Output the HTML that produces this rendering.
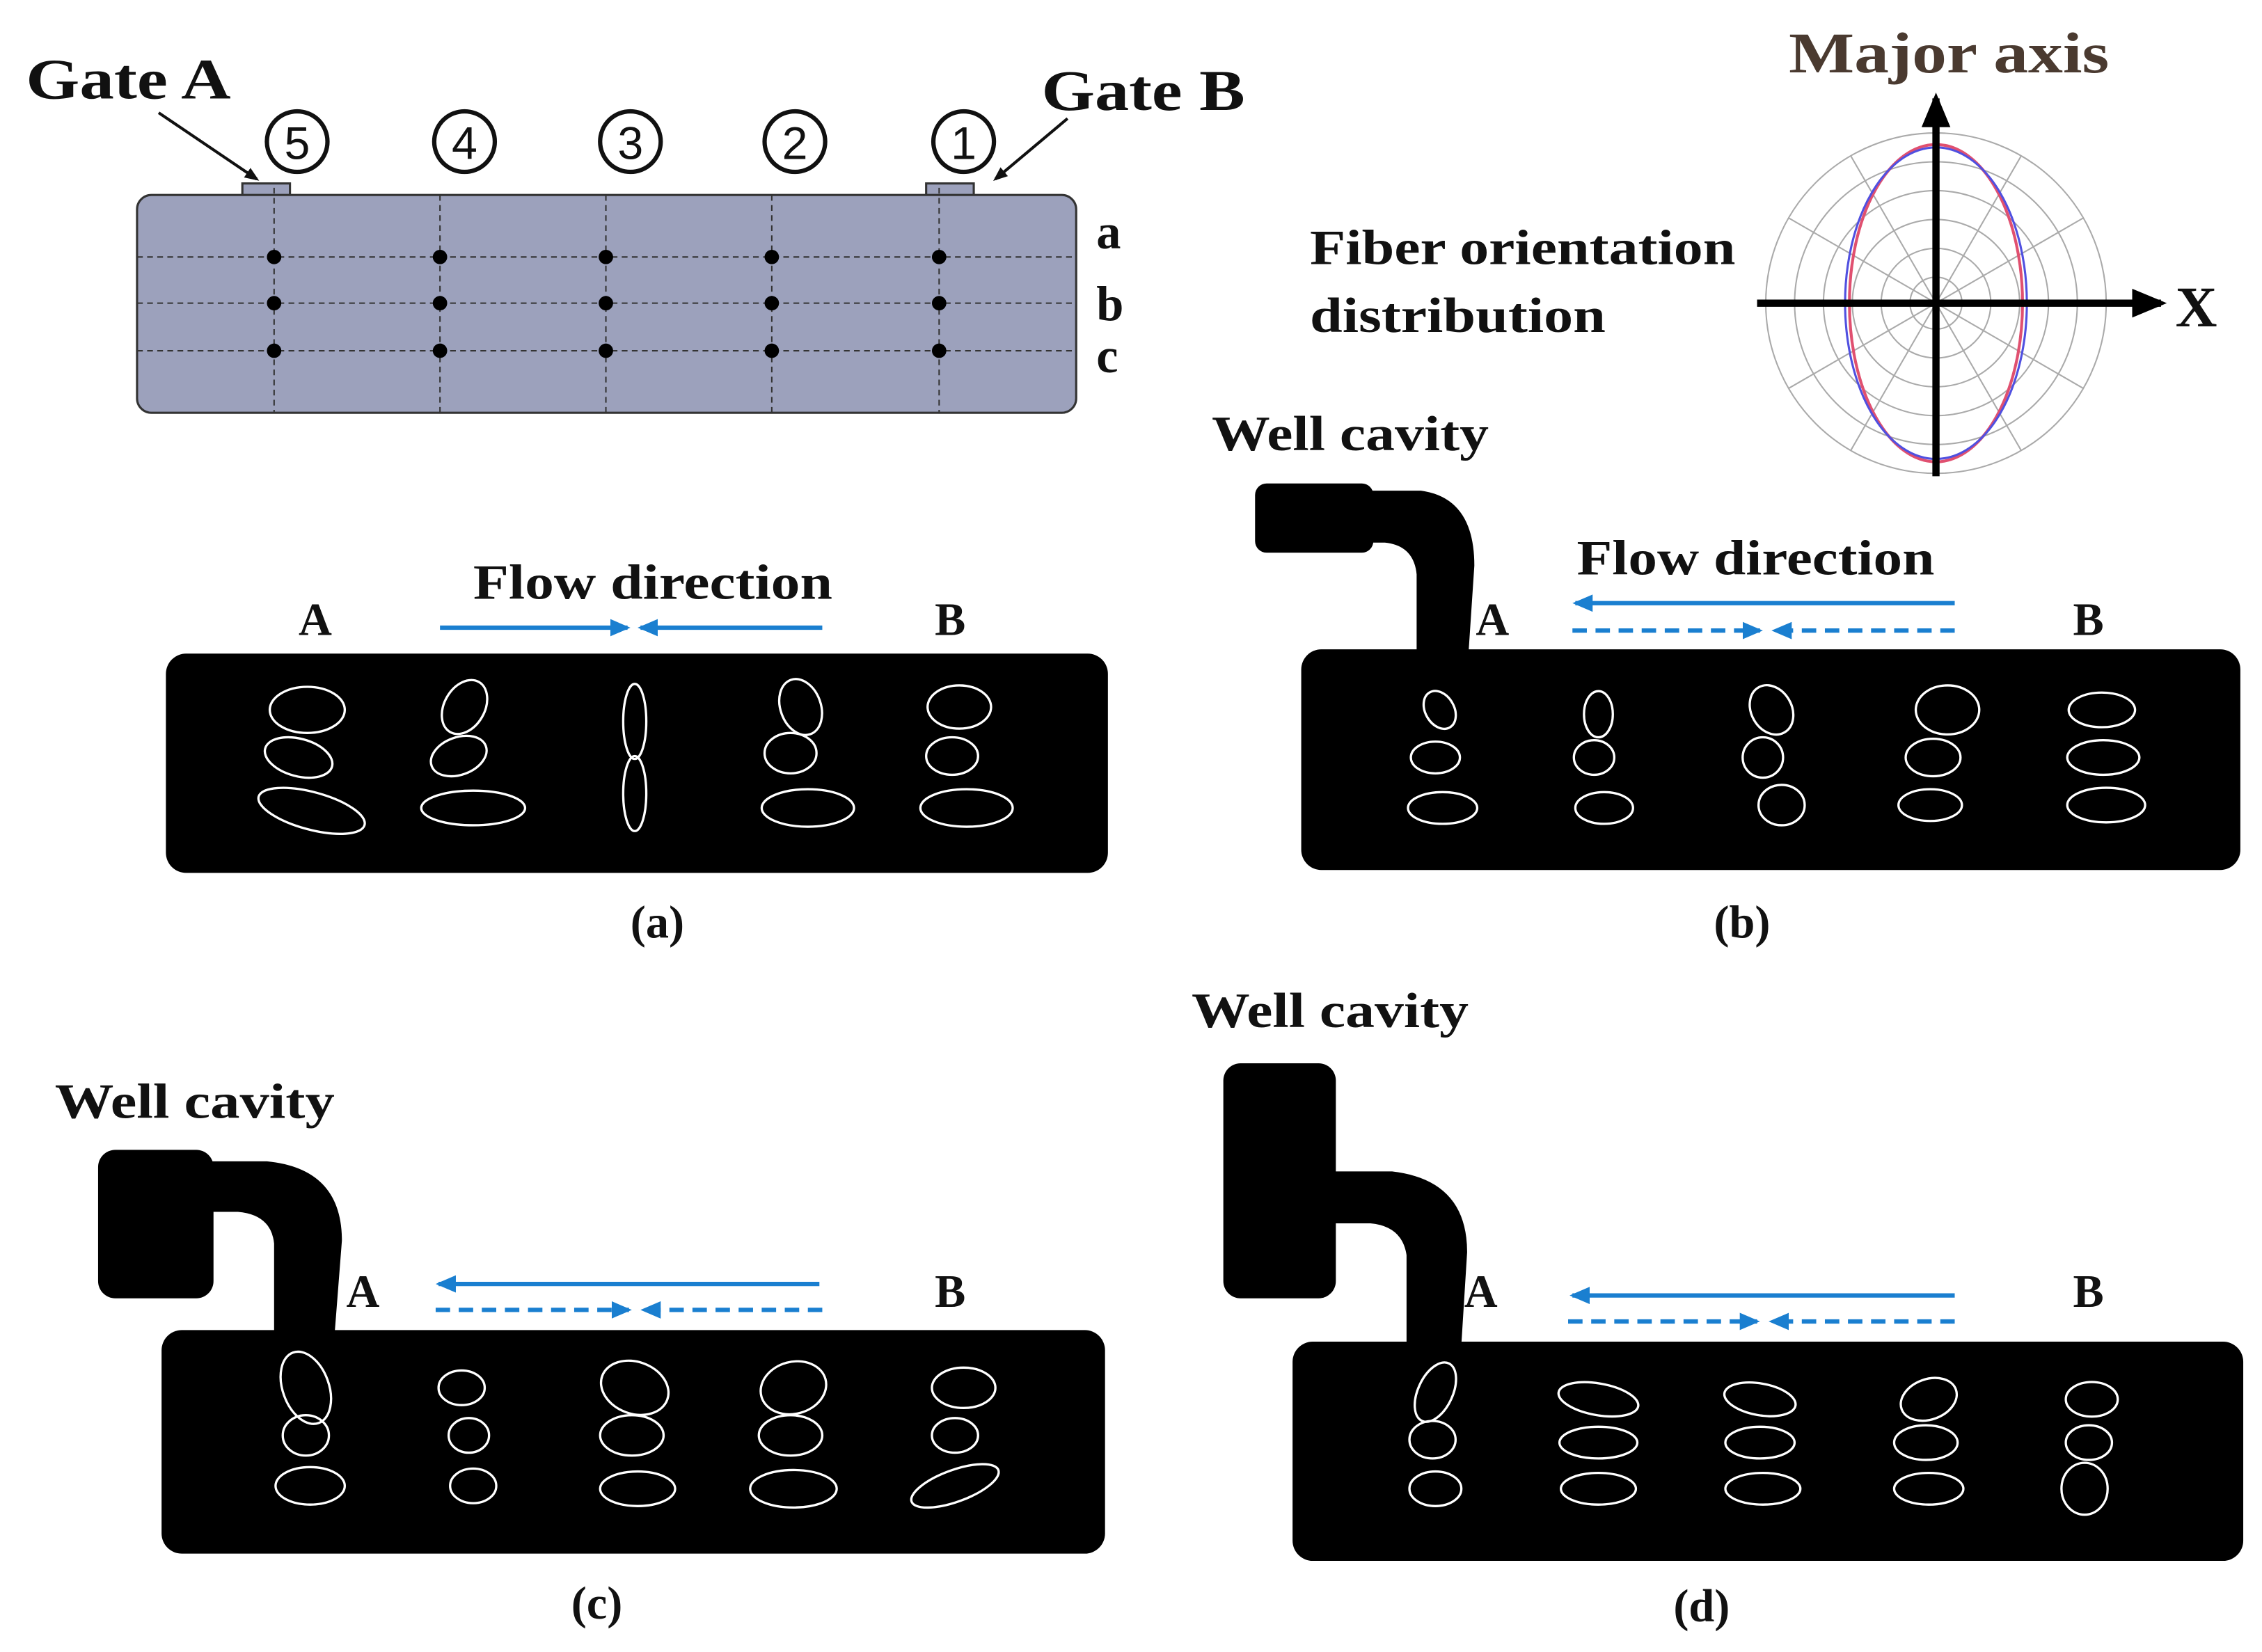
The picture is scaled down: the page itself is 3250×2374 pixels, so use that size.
<!DOCTYPE html>
<html><head><meta charset="utf-8"><style>
html,body{margin:0;padding:0;background:#fff;}
svg{display:block}
text{font-family:"Liberation Serif",serif;font-weight:bold;fill:#111}
</style></head><body>
<svg width="3250" height="2374" viewBox="0 0 1568 1145" xmlns="http://www.w3.org/2000/svg">
<defs>
<marker id="ah" markerWidth="10" markerHeight="10" refX="8" refY="5" orient="auto" markerUnits="userSpaceOnUse"><path d="M0,1 L10,5 L0,9 Z" fill="#111"/></marker>
<marker id="bh" markerWidth="14" markerHeight="12" refX="12" refY="6" orient="auto" markerUnits="userSpaceOnUse"><path d="M0,0 L14,6 L0,12 Z" fill="#1a7fd0"/></marker>
<marker id="kh" markerWidth="24" markerHeight="20" refX="20" refY="10" orient="auto" markerUnits="userSpaceOnUse"><path d="M0,0 L24,10 L0,20 Z" fill="#000"/></marker>
</defs>
<rect width="1568" height="1145" fill="#fff"/>

<!-- Top schematic -->
<text x="18" y="68" font-size="40" textLength="142" lengthAdjust="spacingAndGlyphs">Gate A</text>
<text x="722" y="76" font-size="40" textLength="141" lengthAdjust="spacingAndGlyphs">Gate B</text>
<line x1="110" y1="78" x2="178" y2="124" stroke="#111" stroke-width="2" marker-end="url(#ah)"/>
<line x1="740" y1="82" x2="690" y2="124" stroke="#111" stroke-width="2" marker-end="url(#ah)"/>
<rect x="168" y="127" width="33" height="12" fill="#9ca1bc" stroke="#333" stroke-width="1.5"/>
<rect x="642" y="127" width="33" height="12" fill="#9ca1bc" stroke="#333" stroke-width="1.5"/>
<rect x="95" y="135" width="651" height="151" rx="10" fill="#9ca1bc" stroke="#333" stroke-width="1.5"/>
<g stroke="#333" stroke-width="1" stroke-dasharray="4,3">
<line x1="95" y1="178" x2="746" y2="178"/><line x1="95" y1="210" x2="746" y2="210"/><line x1="95" y1="243" x2="746" y2="243"/>
<line x1="190" y1="130" x2="190" y2="286"/><line x1="305" y1="135" x2="305" y2="286"/><line x1="420" y1="135" x2="420" y2="286"/><line x1="535" y1="135" x2="535" y2="286"/><line x1="651" y1="130" x2="651" y2="286"/>
</g>
<g fill="#000">
<circle cx="190" cy="178" r="5"/><circle cx="190" cy="210" r="5"/><circle cx="190" cy="243" r="5"/>
<circle cx="305" cy="178" r="5"/><circle cx="305" cy="210" r="5"/><circle cx="305" cy="243" r="5"/>
<circle cx="420" cy="178" r="5"/><circle cx="420" cy="210" r="5"/><circle cx="420" cy="243" r="5"/>
<circle cx="535" cy="178" r="5"/><circle cx="535" cy="210" r="5"/><circle cx="535" cy="243" r="5"/>
<circle cx="651" cy="178" r="5"/><circle cx="651" cy="210" r="5"/><circle cx="651" cy="243" r="5"/>
</g>
<g fill="none" stroke="#111" stroke-width="3">
<circle cx="206" cy="98" r="21"/><circle cx="322" cy="98" r="21"/><circle cx="437" cy="98" r="21"/><circle cx="551" cy="98" r="21"/><circle cx="668" cy="98" r="21"/>
</g>
<g font-size="32" text-anchor="middle">
<text x="206" y="110" style="font-family:'Liberation Sans',sans-serif;font-weight:normal">5</text>
<text x="322" y="110" style="font-family:'Liberation Sans',sans-serif;font-weight:normal">4</text>
<text x="437" y="110" style="font-family:'Liberation Sans',sans-serif;font-weight:normal">3</text>
<text x="551" y="110" style="font-family:'Liberation Sans',sans-serif;font-weight:normal">2</text>
<text x="668" y="110" style="font-family:'Liberation Sans',sans-serif;font-weight:normal">1</text>
</g>
<text x="760" y="172" font-size="34">a</text>
<text x="760" y="222" font-size="34">b</text>
<text x="760" y="258" font-size="34">c</text>

<!-- Polar plot -->
<text x="1240" y="50" font-size="40" textLength="222" lengthAdjust="spacingAndGlyphs" style="fill:#4a3a30">Major axis</text>
<text x="908" y="183" font-size="34" textLength="295" lengthAdjust="spacingAndGlyphs">Fiber orientation</text>
<text x="908" y="230" font-size="34" textLength="205" lengthAdjust="spacingAndGlyphs">distribution</text>
<g fill="none" stroke="#aaa" stroke-width="1">
<circle cx="1342" cy="210" r="118"/><circle cx="1342" cy="210" r="98"/><circle cx="1342" cy="210" r="78"/><circle cx="1342" cy="210" r="58"/><circle cx="1342" cy="210" r="38"/><circle cx="1342" cy="210" r="18"/>
<line x1="1240" y1="151" x2="1444" y2="269"/><line x1="1240" y1="269" x2="1444" y2="151"/>
<line x1="1283" y1="108" x2="1401" y2="312"/><line x1="1283" y1="312" x2="1401" y2="108"/>
</g>
<ellipse cx="1342" cy="210" rx="60" ry="110" fill="none" stroke="#e05070" stroke-width="2"/>
<ellipse cx="1342" cy="210" rx="63" ry="108" fill="none" stroke="#5050e0" stroke-width="1.5"/>
<line x1="1342" y1="330" x2="1342" y2="68" stroke="#000" stroke-width="5" marker-end="url(#kh)"/>
<line x1="1218" y1="210" x2="1498" y2="210" stroke="#000" stroke-width="5" marker-end="url(#kh)"/>
<text x="1508" y="226" font-size="40">X</text>

<!-- Panel (a) -->
<rect x="115" y="453" width="653" height="152" rx="14" fill="#000"/>
<text x="328" y="415" font-size="34" textLength="249" lengthAdjust="spacingAndGlyphs">Flow direction</text>
<text x="207" y="440" font-size="32">A</text>
<text x="648" y="440" font-size="32">B</text>
<line x1="305" y1="435" x2="435" y2="435" stroke="#1a7fd0" stroke-width="3" marker-end="url(#bh)"/>
<line x1="570" y1="435" x2="444" y2="435" stroke="#1a7fd0" stroke-width="3" marker-end="url(#bh)"/>
<g fill="none" stroke="#fff" stroke-width="1.6">
<ellipse cx="213" cy="492" rx="26" ry="16"/><ellipse cx="207" cy="525" rx="24" ry="13" transform="rotate(15 207 525)"/><ellipse cx="216" cy="562" rx="38" ry="13" transform="rotate(15 216 562)"/>
<ellipse cx="322" cy="490" rx="14" ry="20" transform="rotate(30 322 490)"/><ellipse cx="318" cy="524" rx="20" ry="13" transform="rotate(-20 318 524)"/><ellipse cx="328" cy="560" rx="36" ry="12"/>
<ellipse cx="440" cy="500" rx="8" ry="26"/><ellipse cx="440" cy="550" rx="8" ry="26"/>
<ellipse cx="555" cy="490" rx="14" ry="20" transform="rotate(-20 555 490)"/><ellipse cx="548" cy="522" rx="18" ry="14"/><ellipse cx="560" cy="560" rx="32" ry="13"/>
<ellipse cx="665" cy="490" rx="22" ry="15"/><ellipse cx="660" cy="524" rx="18" ry="13"/><ellipse cx="670" cy="560" rx="32" ry="13"/>
</g>
<text x="437" y="650" font-size="32">(a)</text>

<!-- Panel (b) -->
<text x="840" y="312" font-size="34" textLength="192" lengthAdjust="spacingAndGlyphs">Well cavity</text>
<rect x="870" y="335" width="82" height="48" rx="8" fill="#000"/>
<path d="M945,340 L985,340 Q1022,345 1022,392 L1018,452 L982,452 L982,398 Q980,378 960,376 L945,376 Z" fill="#000"/>
<rect x="902" y="450" width="651" height="153" rx="14" fill="#000"/>
<text x="1093" y="398" font-size="34" textLength="248" lengthAdjust="spacingAndGlyphs">Flow direction</text>
<text x="1023" y="440" font-size="32">A</text>
<text x="1437" y="440" font-size="32">B</text>
<line x1="1355" y1="418" x2="1092" y2="418" stroke="#1a7fd0" stroke-width="3" marker-end="url(#bh)"/>
<line x1="1090" y1="437" x2="1220" y2="437" stroke="#1a7fd0" stroke-width="3" stroke-dasharray="10,6" marker-end="url(#bh)"/>
<line x1="1355" y1="437" x2="1230" y2="437" stroke="#1a7fd0" stroke-width="3" stroke-dasharray="10,6" marker-end="url(#bh)"/>
<g fill="none" stroke="#fff" stroke-width="1.6">
<ellipse cx="998" cy="492" rx="10" ry="14" transform="rotate(-30 998 492)"/><ellipse cx="995" cy="525" rx="17" ry="11"/><ellipse cx="1000" cy="560" rx="24" ry="11"/>
<ellipse cx="1108" cy="495" rx="10" ry="16"/><ellipse cx="1105" cy="525" rx="14" ry="12"/><ellipse cx="1112" cy="560" rx="20" ry="11"/>
<ellipse cx="1228" cy="492" rx="14" ry="18" transform="rotate(-30 1228 492)"/><ellipse cx="1222" cy="525" rx="14" ry="14"/><ellipse cx="1235" cy="558" rx="16" ry="14"/>
<ellipse cx="1350" cy="492" rx="22" ry="17"/><ellipse cx="1340" cy="525" rx="19" ry="13"/><ellipse cx="1338" cy="558" rx="22" ry="11"/>
<ellipse cx="1457" cy="492" rx="23" ry="12"/><ellipse cx="1458" cy="525" rx="25" ry="12"/><ellipse cx="1460" cy="558" rx="27" ry="12"/>
</g>
<text x="1188" y="650" font-size="32">(b)</text>

<!-- Panel (c) -->
<text x="38" y="775" font-size="34" textLength="194" lengthAdjust="spacingAndGlyphs">Well cavity</text>
<rect x="68" y="797" width="80" height="103" rx="12" fill="#000"/>
<path d="M140,805 L185,805 Q237,810 237,860 L232,924 L190,924 L190,862 Q188,842 165,840 L140,840 Z" fill="#000"/>
<rect x="112" y="922" width="654" height="155" rx="14" fill="#000"/>
<text x="240" y="906" font-size="32">A</text>
<text x="648" y="906" font-size="32">B</text>
<line x1="568" y1="890" x2="304" y2="890" stroke="#1a7fd0" stroke-width="3" marker-end="url(#bh)"/>
<line x1="302" y1="908" x2="436" y2="908" stroke="#1a7fd0" stroke-width="3" stroke-dasharray="10,6" marker-end="url(#bh)"/>
<line x1="570" y1="908" x2="446" y2="908" stroke="#1a7fd0" stroke-width="3" stroke-dasharray="10,6" marker-end="url(#bh)"/>
<g fill="none" stroke="#fff" stroke-width="1.6">
<ellipse cx="212" cy="962" rx="16" ry="26" transform="rotate(-20 212 962)"/><ellipse cx="212" cy="995" rx="16" ry="14"/><ellipse cx="215" cy="1030" rx="24" ry="13"/>
<ellipse cx="320" cy="962" rx="16" ry="12"/><ellipse cx="325" cy="995" rx="14" ry="12"/><ellipse cx="328" cy="1030" rx="16" ry="12"/>
<ellipse cx="440" cy="962" rx="24" ry="18" transform="rotate(20 440 962)"/><ellipse cx="438" cy="995" rx="22" ry="14"/><ellipse cx="442" cy="1032" rx="26" ry="12"/>
<ellipse cx="550" cy="962" rx="23" ry="18" transform="rotate(-15 550 962)"/><ellipse cx="548" cy="995" rx="22" ry="14"/><ellipse cx="550" cy="1032" rx="30" ry="13"/>
<ellipse cx="668" cy="962" rx="22" ry="14"/><ellipse cx="662" cy="995" rx="16" ry="12"/><ellipse cx="662" cy="1030" rx="32" ry="11" transform="rotate(-20 662 1030)"/>
</g>
<text x="396" y="1122" font-size="32">(c)</text>

<!-- Panel (d) -->
<text x="826" y="712" font-size="34" textLength="192" lengthAdjust="spacingAndGlyphs">Well cavity</text>
<rect x="848" y="737" width="78" height="163" rx="12" fill="#000"/>
<path d="M918,812 L965,812 Q1017,818 1017,868 L1013,932 L975,932 L975,870 Q972,850 950,848 L918,848 Z" fill="#000"/>
<rect x="896" y="930" width="659" height="152" rx="14" fill="#000"/>
<text x="1015" y="906" font-size="32">A</text>
<text x="1437" y="906" font-size="32">B</text>
<line x1="1355" y1="898" x2="1090" y2="898" stroke="#1a7fd0" stroke-width="3" marker-end="url(#bh)"/>
<line x1="1087" y1="916" x2="1218" y2="916" stroke="#1a7fd0" stroke-width="3" stroke-dasharray="10,6" marker-end="url(#bh)"/>
<line x1="1355" y1="916" x2="1228" y2="916" stroke="#1a7fd0" stroke-width="3" stroke-dasharray="10,6" marker-end="url(#bh)"/>
<g fill="none" stroke="#fff" stroke-width="1.6">
<ellipse cx="995" cy="965" rx="12" ry="22" transform="rotate(25 995 965)"/><ellipse cx="993" cy="998" rx="16" ry="13"/><ellipse cx="995" cy="1032" rx="18" ry="12"/>
<ellipse cx="1108" cy="970" rx="28" ry="11" transform="rotate(10 1108 970)"/><ellipse cx="1108" cy="1000" rx="27" ry="11"/><ellipse cx="1108" cy="1032" rx="26" ry="11"/>
<ellipse cx="1220" cy="970" rx="25" ry="11" transform="rotate(10 1220 970)"/><ellipse cx="1220" cy="1000" rx="24" ry="11"/><ellipse cx="1222" cy="1032" rx="26" ry="11"/>
<ellipse cx="1337" cy="970" rx="20" ry="14" transform="rotate(-20 1337 970)"/><ellipse cx="1335" cy="1000" rx="22" ry="12"/><ellipse cx="1337" cy="1032" rx="24" ry="11"/>
<ellipse cx="1450" cy="970" rx="18" ry="12"/><ellipse cx="1448" cy="1000" rx="16" ry="12"/><ellipse cx="1445" cy="1032" rx="16" ry="18"/>
</g>
<text x="1160" y="1124" font-size="32">(d)</text>
</svg>
</body></html>
